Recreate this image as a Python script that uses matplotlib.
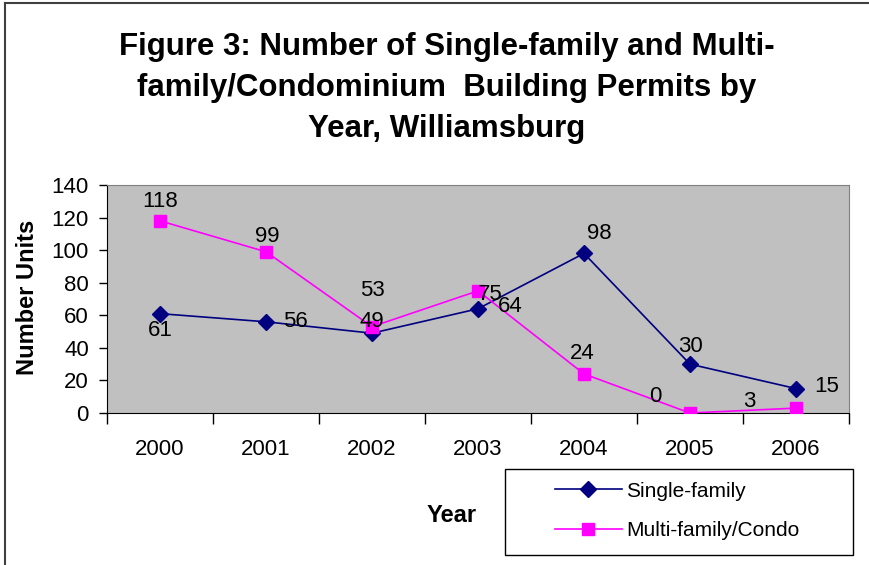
import numpy as np
import matplotlib.pyplot as plt
from matplotlib.lines import Line2D
from matplotlib.patches import Rectangle

plt.rcParams.update({'font.family': ['Liberation Sans', 'DejaVu Sans'],
                     'font.size': 16})

years = ['2000', '2001', '2002', '2003', '2004', '2005', '2006']
single = [61, 56, 49, 64, 98, 30, 15]
multi = [118, 99, 53, 75, 24, 0, 3]

# label offsets in pixels (placement only)
single_off = [(0, -17), (29, 0), (0, 12), (32, 2), (15, 20), (0, 18), (31, 2)]
multi_off = [(0, 19), (1, 15), (0, 36), (12, -4), (-2, 20), (-35, 16), (-47, 7)]

fig = plt.figure(figsize=(8.69, 5.65), dpi=100)
ax = fig.add_axes([107/869, 1-413/565, 742/869, 228/565])
ax.set_facecolor('#C0C0C0')

x = np.arange(len(years))
ax.plot(x, single, color='#000080', marker='D', markersize=8, lw=1.2,
        label='Single-family', zorder=3)
ax.plot(x, multi, color='#FF00FF', marker='s', markersize=8.5, lw=1.2,
        label='Multi-family/Condo', zorder=3)

for xi, v, o in zip(x, single, single_off):
    ax.annotate(str(v), (xi, v), xytext=o, textcoords='offset pixels',
                ha='center', va='center', fontsize=16, zorder=4)
for xi, v, o in zip(x, multi, multi_off):
    ax.annotate(str(v), (xi, v), xytext=o, textcoords='offset pixels',
                ha='center', va='center', fontsize=16, zorder=4)

ax.set_xlim(-0.5, len(years) - 0.5)
ax.set_ylim(0, 140)
ax.set_yticks(np.arange(0, 141, 20))
ax.set_xticks(np.arange(-0.5, len(years), 1))
ax.set_xticklabels([])
ax.set_xticks(x, minor=True)
ax.set_xticklabels(years, minor=True)
ax.tick_params(axis='x', which='major', length=8, width=1, direction='out')
ax.tick_params(axis='x', which='minor', length=0, pad=19, labelsize=16)
ax.tick_params(axis='y', length=6, width=1, direction='out', labelsize=16, pad=7)

for s in ['top', 'right']:
    ax.spines[s].set_color('#808080')
for s in ['left', 'bottom']:
    ax.spines[s].set_color('black')

fig.text(28/869, 1-297/565, 'Number Units', rotation=90, fontsize=17,
         fontweight='bold', ha='center', va='center')
fig.text(452/869, 1-515/565, 'Year', fontsize=17, fontweight='bold',
         ha='center', va='center')

fig.text(447/869, 1-88/565,
         'Figure 3: Number of Single-family and Multi-\n'
         'family/Condominium  Building Permits by\n'
         'Year, Williamsburg',
         fontsize=22.5, fontweight='bold', ha='center', va='center',
         linespacing=1.48)

# legend box
fig.add_artist(Rectangle((505/869, 1-555/565), 348/869, 86/565, fill=False,
                         edgecolor='black', lw=1.0, transform=fig.transFigure))
leg = fig.legend(loc='center left', bbox_to_anchor=(555/869, 1-511/565),
                 frameon=False, fontsize=15, handlelength=3.2, handletextpad=0.2,
                 labelspacing=1.0, borderpad=0, borderaxespad=0)

# outer chart frame (cut at right/bottom)
fig.add_artist(Line2D([5/869, 5/869], [0, 1-3/565], color='#404040', lw=1.5,
                      transform=fig.transFigure))
fig.add_artist(Line2D([5/869, 1], [1-3/565, 1-3/565], color='#404040', lw=1.5,
                      transform=fig.transFigure))

fig.savefig('out.png', dpi=100)
